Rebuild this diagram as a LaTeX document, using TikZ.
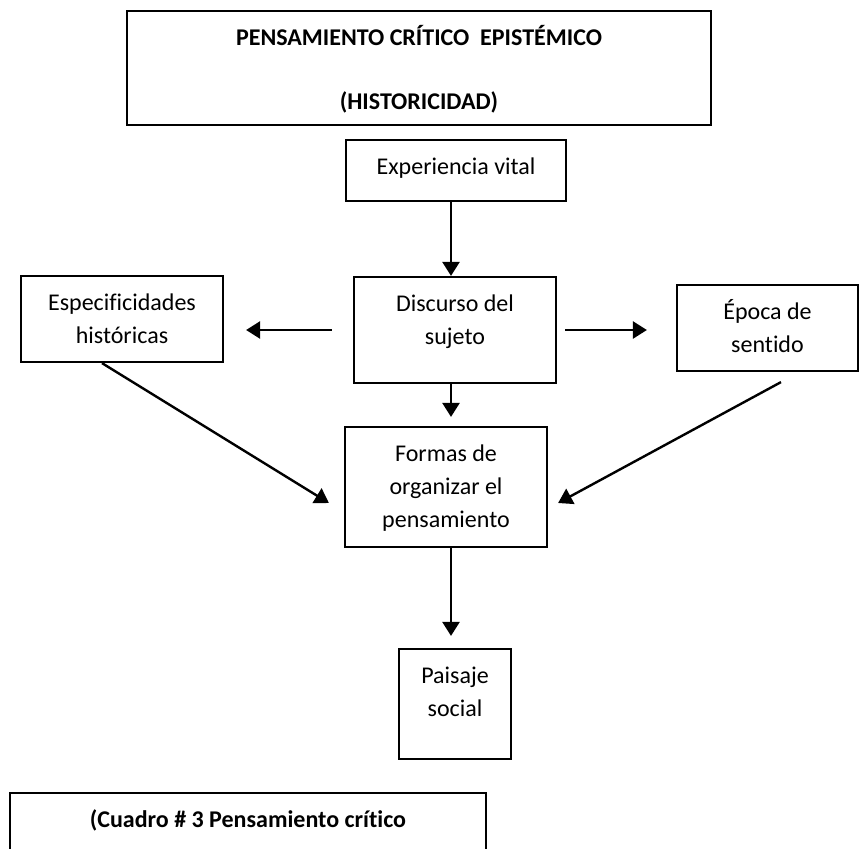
\documentclass[tikz,border=0pt]{standalone}
\usepackage{fontspec}
\setmainfont{Carlito}[Ligatures=NoCommon]
\usetikzlibrary{arrows.meta,calc}
\newcommand{\tbox}[3]{\parbox[c][#2][t]{#1}{\centering\vspace*{11pt}\strut #3}}
\tikzset{
  boxnode/.style={draw, line width=2.2pt, inner sep=0pt, font=\fontsize{24}{33}\selectfont},
  arr/.style={line width=2.4pt, -{Triangle[length=14pt,width=17pt]}},
}
\begin{document}
\begin{tikzpicture}[x=1pt,y=-1pt]
\useasboundingbox (0,0) rectangle (860,849);
\begin{scope}
\clip (0,0) rectangle (860,849);
\node[boxnode] (top) at (419,68) {\tbox{584pt}{114pt}{\bfseries PENSAMIENTO CRÍTICO\ \ EPISTÉMICO\\[31pt]\bfseries (HISTORICIDAD)}};
\node[boxnode] (exp) at (456,170.5) {\tbox{220pt}{61pt}{Experiencia vital}};
\node[boxnode] (disc) at (455,330) {\tbox{202pt}{106pt}{Discurso del\\sujeto}};
\node[boxnode] (esp) at (122,319) {\tbox{202pt}{86pt}{Especificidades\\históricas}};
\node[boxnode] (epo) at (767.5,328) {\tbox{181pt}{86pt}{Época de\\sentido}};
\node[boxnode] (formas) at (446,487) {\tbox{202pt}{120pt}{Formas de\\organizar el\\pensamiento}};
\node[boxnode] (paisaje) at (455,704) {\tbox{112pt}{110pt}{Paisaje\\social}};
\node[boxnode] (cuadro) at (248,843) {\tbox{476pt}{100pt}{\bfseries (Cuadro \# 3 Pensamiento crítico}};

\coordinate (ax) at (451,0);
\draw[arr] (exp.south -| ax) -- (disc.north -| ax);
\draw[arr] (disc.south -| ax) -- ($(formas.north -| ax)+(0,-9)$);
\draw[arr] (formas.south -| ax) -- ($(paisaje.north -| ax)+(0,-12)$);
\draw[arr] ($(disc.west)+(-21,0)$) -- ($(esp.east |- disc.west)+(22,0)$);
\draw[arr] ($(disc.east)+(8,0)$) -- ($(epo.west |- disc.east)+(-29,0)$);
\draw[arr] ($(esp.south)+(-20,0)$) -- ($(formas.west)+(-15,16)$);
\draw[arr] ($(epo.south)+(13.5,10)$) -- ($(formas.east)+(10,16)$);
\end{scope}
\end{tikzpicture}
\end{document}
